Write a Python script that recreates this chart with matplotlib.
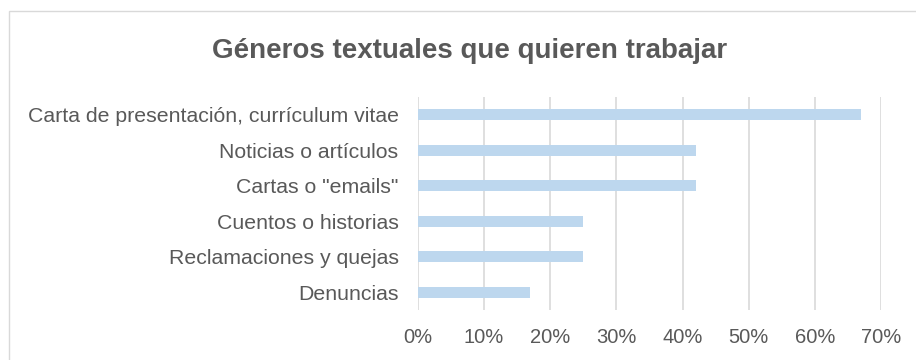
import numpy as np
import matplotlib.pyplot as plt
from matplotlib.patches import Rectangle
from matplotlib.ticker import FuncFormatter

plt.rcParams['font.family'] = ['Liberation Sans', 'DejaVu Sans']

# datos (de abajo hacia arriba)
categorias = ["Denuncias", "Reclamaciones y quejas", "Cuentos o historias",
              'Cartas o "emails"', "Noticias o artículos",
              "Carta de presentación, currículum vitae"]
valores = [17, 25, 25, 42, 42, 67]
ticks = [0, 10, 20, 30, 40, 50, 60, 70]

gris = "#595959"

fig = plt.figure(figsize=(9.16, 3.6), dpi=100)
ax = fig.add_axes([0.4563, 0.139, 0.5055, 0.592])

y = np.arange(len(categorias))
ax.barh(y, valores, height=0.31, color="#BDD7EE", zorder=2)

ax.set_xlim(0, 70)
ax.set_ylim(-0.5, len(categorias) - 0.5)
ax.set_xticks(ticks)
ax.xaxis.set_major_formatter(FuncFormatter(lambda v, p: f"{v:.0f}%"))
ax.set_yticks(y)
ax.set_yticklabels(categorias)
ax.grid(axis="x", color="#D9D9D9", linewidth=1.2, zorder=0)
for s in ax.spines.values():
    s.set_visible(False)
ax.tick_params(axis="both", length=0, colors=gris)
ax.tick_params(axis="x", pad=13, labelsize=14.5)
ax.tick_params(axis="y", pad=14, labelsize=15.3)

fig.text(0.513, 0.858, "Géneros textuales que quieren trabajar",
         ha="center", va="center", fontsize=20, fontweight="bold", color=gris)

# borde del gráfico
fig.patches.append(Rectangle((9 / 916, -0.1), 1.2, 1.1 - 11 / 360, transform=fig.transFigure,
                             fill=False, edgecolor="#D9D9D9", linewidth=1))

fig.savefig("out.png", dpi=100)
